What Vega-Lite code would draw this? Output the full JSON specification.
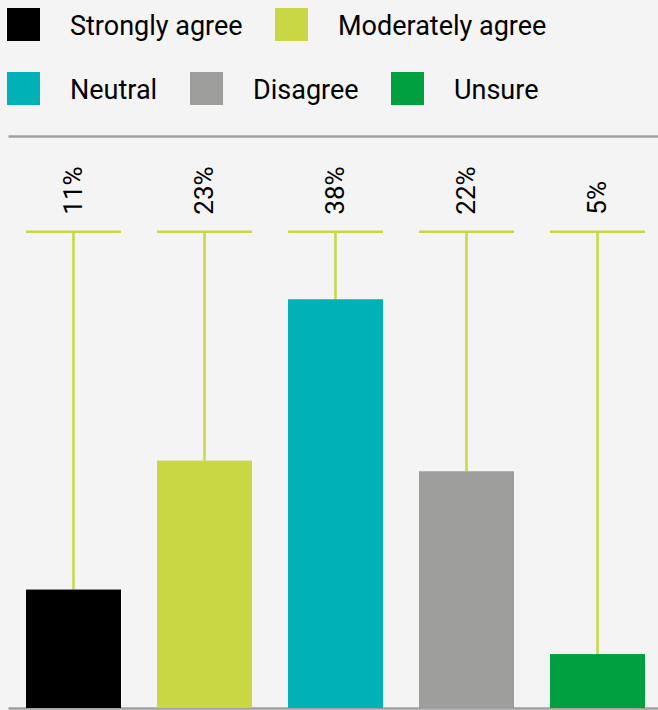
{
  "$schema": "https://vega.github.io/schema/vega-lite/v6.json",
  "width": 655,
  "height": 572,
  "autosize": {"type": "none"},
  "padding": {"left": 8, "top": 136, "right": 0, "bottom": 2},
  "background": "#f4f4f4",
  "config": {
    "view": {"stroke": null},
    "font": "Roboto",
    "legend": {
      "symbolType": "square",
      "symbolSize": 1089,
      "symbolStrokeWidth": 0,
      "labelFontSize": 27,
      "labelFont": "Roboto",
      "labelColor": "#000000",
      "labelOffset": 30,
      "columnPadding": 32,
      "padding": 0,
      "direction": "horizontal",
      "labelLimit": 400
    }
  },
  "data": {
    "values": [
      {"response": "Strongly agree", "share": 0.11},
      {"response": "Moderately agree", "share": 0.23},
      {"response": "Neutral", "share": 0.38},
      {"response": "Disagree", "share": 0.22},
      {"response": "Unsure", "share": 0.05}
    ]
  },
  "layer": [
    {
      "mark": {"type": "rule", "color": "#c9d745", "strokeWidth": 2.5},
      "encoding": {
        "x": {
          "field": "response", "type": "nominal", "sort": null,
          "scale": {"paddingInner": 0.2748, "paddingOuter": 0.1374},
          "axis": {"orient": "bottom", "labels": false, "ticks": false, "title": null, "grid": false, "domainColor": "#a0a0a0", "domainWidth": 2.5}
        },
        "y": {"field": "share", "type": "quantitative", "scale": {"domain": [0, 0.532], "nice": false, "zero": true}, "axis": null},
        "y2": {"datum": 0.443}
      }
    },
    {
      "mark": {"type": "tick", "color": "#c9d745", "size": 95, "thickness": 2.5, "opacity": 1},
      "encoding": {
        "x": {"field": "response", "type": "nominal", "sort": null, "axis": null},
        "y": {"datum": 0.443, "type": "quantitative", "axis": null}
      }
    },
    {
      "mark": {"type": "bar"},
      "encoding": {
        "x": {
          "field": "response", "type": "nominal", "sort": null,
          "axis": {"orient": "top", "labels": false, "ticks": false, "title": null, "grid": false, "domainColor": "#a0a0a0", "domainWidth": 2.5}
        },
        "y": {"field": "share", "type": "quantitative", "axis": null},
        "fill": {
          "field": "response", "type": "nominal",
          "scale": {
            "domain": ["Strongly agree", "Moderately agree", "Neutral", "Disagree", "Unsure"],
            "range": ["#000000", "#c9d745", "#00b1b8", "#9e9e9c", "#00a040"]
          },
          "legend": {
            "title": null, "orient": "none",
            "values": ["Strongly agree", "Moderately agree"],
            "legendX": -1, "legendY": -128,
            "encode": {"labels": {"update": {"dy": {"value": 2}}}}
          }
        }
      }
    },
    {
      "mark": {"type": "bar"},
      "encoding": {
        "x": {"field": "response", "type": "nominal", "sort": null, "axis": null},
        "y": {"field": "share", "type": "quantitative", "axis": null},
        "fill": {
          "field": "response", "type": "nominal",
          "scale": {
            "domain": ["Strongly agree", "Moderately agree", "Neutral", "Disagree", "Unsure"],
            "range": ["#000000", "#c9d745", "#00b1b8", "#9e9e9c", "#00a040"]
          },
          "legend": {
            "title": null, "orient": "none",
            "values": ["Neutral", "Disagree", "Unsure"],
            "legendX": -1, "legendY": -64,
            "encode": {"labels": {"update": {"dy": {"value": 2}}}}
          }
        }
      }
    },
    {
      "mark": {"type": "text", "angle": 270, "align": "left", "baseline": "middle", "dx": 17, "fontSize": 26, "font": "Roboto", "color": "#000000"},
      "encoding": {
        "x": {"field": "response", "type": "nominal", "sort": null, "axis": null},
        "y": {"datum": 0.443, "type": "quantitative", "axis": null},
        "text": {"field": "share", "type": "quantitative", "format": ".0%"}
      }
    }
  ],
  "resolve": {
    "scale": {"fill": "independent"},
    "legend": {"fill": "independent"},
    "axis": {"x": "independent"}
  }
}
